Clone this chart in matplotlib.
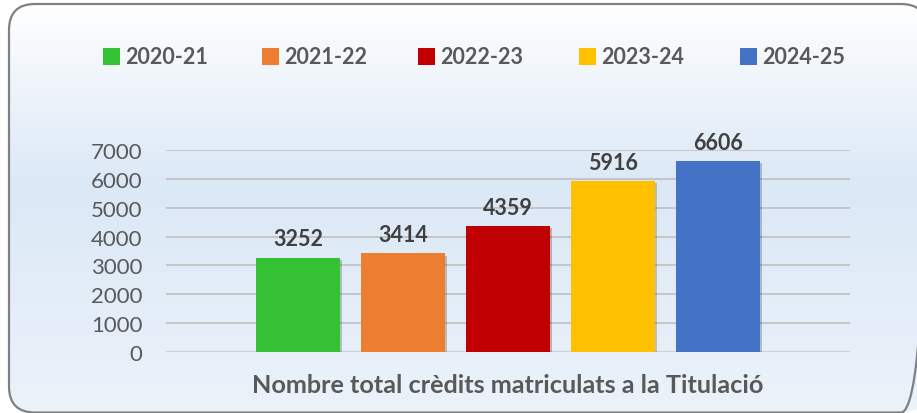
import numpy as np
import matplotlib.pyplot as plt
from matplotlib.patches import FancyBboxPatch
import matplotlib.patheffects as pe

plt.rcParams['font.family'] = ['Lato', 'DejaVu Sans']

# data
cursos = ['2020-21', '2021-22', '2022-23', '2023-24', '2024-25']
credits = [3252, 3414, 4359, 5916, 6606]
colors = ['#34c133', '#ed7d31', '#c00000', '#ffc000', '#4472c4']
y_ticks = [0, 1000, 2000, 3000, 4000, 5000, 6000, 7000]
xlabel = 'Nombre total crèdits matriculats a la Titulació'

W, H = 917, 414
fig = plt.figure(figsize=(W / 100, H / 100), dpi=100)

# background with gradient inside rounded frame
bg = fig.add_axes([0, 0, 1, 1])
bg.set_xlim(0, W)
bg.set_ylim(H, 0)
bg.axis('off')
frame = FancyBboxPatch((9, 5), 918, 408.5, boxstyle='round,pad=0,rounding_size=26',
                       fc='none', ec='#808080', lw=1.6, zorder=3)
bg.add_patch(frame)
t = np.linspace(0, 1, 256)
grad = np.interp(t, [0, 0.45, 1], [0, 1, 0.55])
c_top = np.array([1.0, 1.0, 1.0])
c_mid = np.array([0.86, 0.91, 0.965])
img = c_top[None, :] + grad[:, None] * (c_mid - c_top)[None, :]
img = np.repeat(img[:, None, :], 2, axis=1)
im = bg.imshow(img, extent=(0, W, H, 0), aspect='auto', zorder=1)
im.set_clip_path(frame)

# legend
leg_x = [103, 262, 418, 579, 740]
for x, c, lab in zip(leg_x, colors, cursos):
    bg.add_patch(plt.Rectangle((x, 49), 17, 17, fc=c, ec='none', zorder=4))
    bg.text(x + 22, 57.5, lab, fontsize=15.5, fontweight='bold', color='#595959',
            va='center', ha='left', zorder=4)

bg.text(508, 386, xlabel, fontsize=18.2, fontweight='bold', color='#595959',
        ha='center', va='center', zorder=4)

# main axes
ax = fig.add_axes([166 / W, 1 - 353 / H, (850 - 166) / W, (353 - 151) / H])
ax.patch.set_alpha(0)
x = np.arange(len(cursos))
bars = ax.bar(x, credits, width=0.8, color=colors, zorder=3,
              path_effects=[pe.SimplePatchShadow(offset=(1.5, -1.5), alpha=0.25), pe.Normal()])
for xi, v in zip(x, credits):
    ax.text(xi, v + 300, str(v), ha='center', va='bottom', fontsize=15.5,
            fontweight='bold', color='#404040', clip_on=False)
ax.set_xlim(2 - 3.257, 2 + 3.257)
ax.set_ylim(0, 7000)
ax.set_yticks(y_ticks)
ax.set_xticks([])
ax.grid(axis='y', color='#bfbfbf', lw=1.2, zorder=0)
ax.tick_params(axis='y', length=0, pad=17, labelsize=16, labelcolor='#595959')
for s in ax.spines.values():
    s.set_visible(False)
ax.axhline(0, color='#d0d0d0', lw=1.5, zorder=2)

fig.savefig('out.png', dpi=100)
